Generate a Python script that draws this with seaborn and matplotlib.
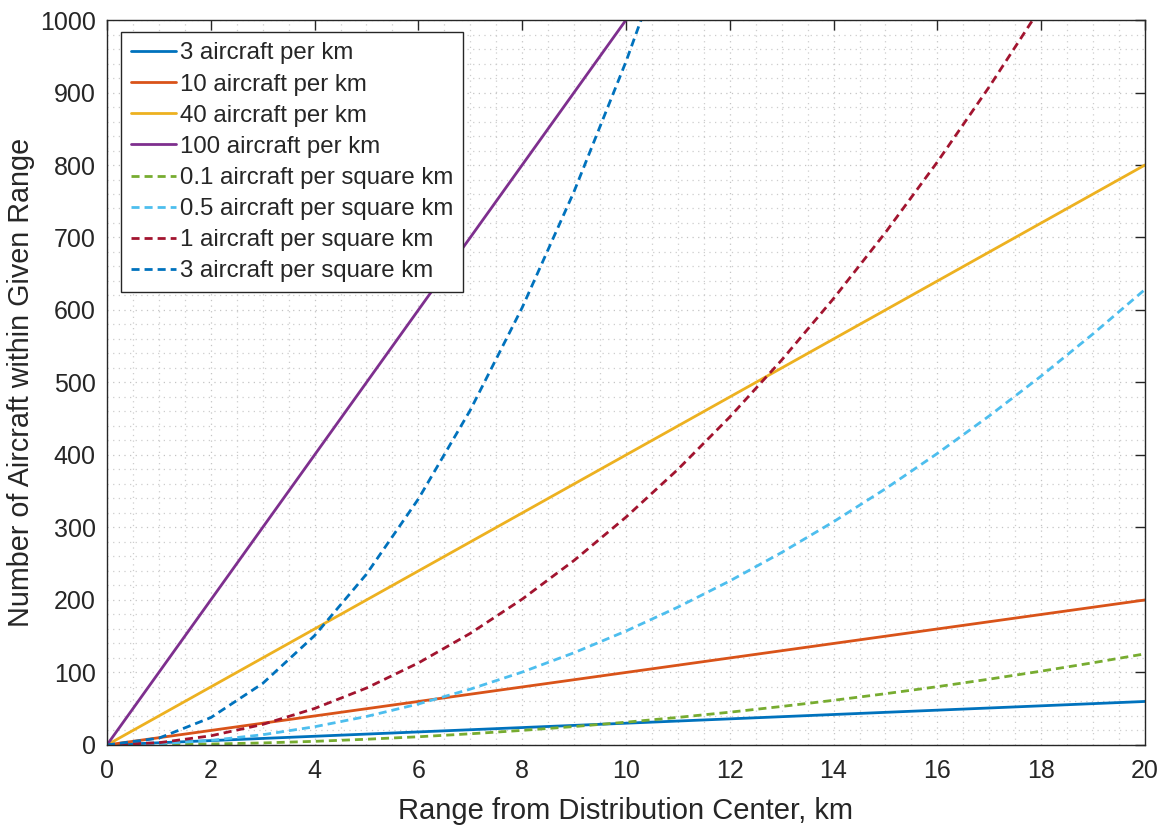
import numpy as np
import pandas as pd
import matplotlib
matplotlib.use("Agg")
import matplotlib.pyplot as plt
import seaborn as sns
from matplotlib.ticker import MultipleLocator

# Linear-density series (aircraft per km)
lin_labels = ["3 aircraft per km", "10 aircraft per km", "40 aircraft per km", "100 aircraft per km"]
lin_x = [0, 20]
lin_3 = [0, 60]
lin_10 = [0, 200]
lin_40 = [0, 800]
lin_100 = [0, 2000]

# Area-density series (aircraft per square km), read at 1 km steps
area_labels = ["0.1 aircraft per square km", "0.5 aircraft per square km",
               "1 aircraft per square km", "3 aircraft per square km"]
area_x = list(range(0, 21))
area_01 = [0, 0.3, 1.3, 2.8, 5.0, 7.9, 11.3, 15.4, 20.1, 25.4, 31.4, 38.0, 45.2,
           53.1, 61.6, 70.7, 80.4, 90.8, 101.8, 113.4, 125.7]
area_05 = [0, 1.6, 6.3, 14.1, 25.1, 39.3, 56.5, 77.0, 100.5, 127.2, 157.1, 190.1,
           226.2, 265.5, 307.9, 353.4, 402.1, 453.9, 508.9, 567.1, 628.3]
area_1 = [0, 3.1, 12.6, 28.3, 50.3, 78.5, 113.1, 153.9, 201.1, 254.5, 314.2, 380.1,
          452.4, 530.9, 615.8, 706.9, 804.2, 907.9, 1017.9, 1134.1, 1256.6]
area_3 = [0, 9.4, 37.7, 84.8, 150.8, 235.6, 339.3, 461.8, 603.2, 763.4, 942.5, 1140.4,
          1357.2, 1592.8, 1847.3, 2120.6, 2412.7, 2723.8, 3053.6, 3402.3, 3769.9]

colors = ["#0072BD", "#D95319", "#EDB120", "#7E2F8E",
          "#77AC30", "#4DBEEE", "#A2142F", "#0072BD"]

sns.set_style("white")
plt.rcParams['font.family'] = ['Liberation Sans', 'DejaVu Sans']

rows = []
for lab, ys in zip(lin_labels, [lin_3, lin_10, lin_40, lin_100]):
    for x, y in zip(lin_x, ys):
        rows.append((lab, x, y, "solid"))
for lab, ys in zip(area_labels, [area_01, area_05, area_1, area_3]):
    for x, y in zip(area_x, ys):
        rows.append((lab, x, y, "dash"))
df = pd.DataFrame(rows, columns=["series", "range", "count", "kind"])

fig = plt.figure(figsize=(11.65, 8.27), dpi=100)
ax = fig.add_axes([0.0918, 0.0992, 0.8910, 0.8766])

order = lin_labels + area_labels
for lab, c in zip(order, colors):
    sub = df[df.series == lab]
    ls = "-" if sub.kind.iloc[0] == "solid" else (0, (2.9, 1.8))
    sns.lineplot(data=sub, x="range", y="count", ax=ax, color=c, lw=2.0,
                 linestyle=ls, label=lab, sort=False, estimator=None)

ax.set_xlim(0, 20)
ax.set_ylim(0, 1000)
ax.xaxis.set_major_locator(MultipleLocator(2))
ax.xaxis.set_minor_locator(MultipleLocator(0.5))
ax.yaxis.set_major_locator(MultipleLocator(100))
ax.yaxis.set_minor_locator(MultipleLocator(20))
ax.grid(which="major", color="#c4c4c4", lw=0.9, ls=(0, (1, 3.5)))
ax.grid(which="minor", color="#cdcdcd", lw=0.9, ls=(0, (1, 3.5)))
ax.set_axisbelow(True)
ax.tick_params(which="major", direction="in", length=7, width=1, top=True, right=True,
               labelsize=18, colors="#262626")
ax.tick_params(axis="x", which="major", pad=10)
ax.tick_params(axis="y", which="major", pad=8)
ax.tick_params(which="minor", length=0)
for s in ax.spines.values():
    s.set_color("#262626")
    s.set_linewidth(1)
    s.set_visible(True)

ax.set_xlabel("Range from Distribution Center, km", fontsize=21, color="#262626", labelpad=10)
ax.set_ylabel("Number of Aircraft within Given Range", fontsize=20.7, color="#262626")
ax.yaxis.set_label_coords(-0.069, 0.5)

leg = ax.legend(loc="upper left", bbox_to_anchor=(0.0135, 0.983), fontsize=17.3,
                frameon=True, fancybox=False, framealpha=1, edgecolor="#262626",
                handlelength=1.85, handletextpad=0.17, borderpad=0.42, labelspacing=0.38,
                borderaxespad=0)
leg.get_frame().set_linewidth(1)

fig.savefig("out.png", dpi=100)
